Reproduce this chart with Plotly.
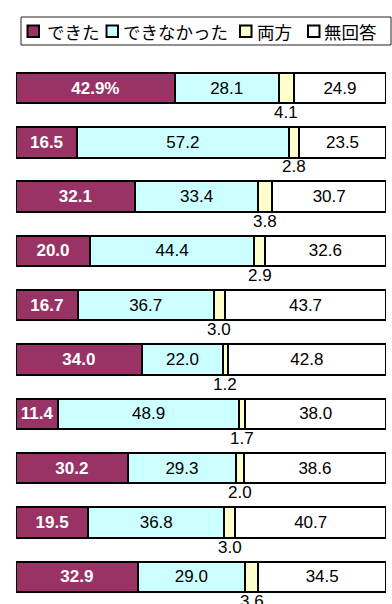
import plotly.graph_objects as go

rows = ["Q1", "Q2", "Q3", "Q4", "Q5", "Q6", "Q7", "Q8", "Q9", "Q10"]
series_names = ["できた", "できなかった", "両方", "無回答"]
dekita = [42.9, 16.5, 32.1, 20.0, 16.7, 34.0, 11.4, 30.2, 19.5, 32.9]
dekinakatta = [28.1, 57.2, 33.4, 44.4, 36.7, 22.0, 48.9, 29.3, 36.8, 29.0]
ryouhou = [4.1, 2.8, 3.8, 2.9, 3.0, 1.2, 1.7, 2.0, 3.0, 3.6]
mukaitou = [24.9, 23.5, 30.7, 32.6, 43.7, 42.8, 38.0, 38.6, 40.7, 34.5]
colors = ["#993366", "#CCFFFF", "#FFFFCC", "#FFFFFF"]

W, H = 392, 604
ML, MR, MT, MB = 16, 6, 52, 0
PW, PH = W - ML - MR, H - MT - MB


def px(x):
    return (x - ML) / PW


def py(y):
    return (H - MB - y) / PH


fig = go.Figure()
series = [dekita, dekinakatta, ryouhou, mukaitou]
for i, vals in enumerate(series):
    if i == 0:
        text = [f"{v:.1f}%" if j == 0 else f"{v:.1f}" for j, v in enumerate(vals)]
        tfont = dict(family="Liberation Sans, Arial", size=17, color="white", weight="bold")
    elif i == 2:
        text = None
        tfont = None
    else:
        text = [f"{v:.1f}" for v in vals]
        tfont = dict(family="Liberation Sans, Arial", size=17, color="black")
    fig.add_trace(go.Bar(
        y=rows, x=vals, orientation="h", name=series_names[i],
        marker=dict(color=colors[i], line=dict(color="black", width=2)),
        text=text, textposition="inside" if text else "none",
        insidetextanchor="middle", textangle=0,
        textfont=tfont, hoverinfo="skip", showlegend=False,
    ))

# labels for the narrow "両方" segment, placed below the bar
for r, a, b, c in zip(rows, dekita, dekinakatta, ryouhou):
    fig.add_annotation(x=a + b + c / 2, y=r, text=f"{c:.1f}", showarrow=False,
                       yshift=-24.5, xref="x", yref="y",
                       font=dict(family="Liberation Sans, Arial", size=17, color="black"))

# legend drawn manually
shapes = [dict(type="rect", xref="paper", yref="paper",
               x0=px(21), x1=px(391), y0=py(45), y1=py(17),
               line=dict(color="#222222", width=1), fillcolor="white", layer="below")]
legend_marker_x = [27.5, 106.5, 240, 308]
legend_text_x = [45, 121, 254.5, 321.5]
for i, name in enumerate(series_names):
    mx = legend_marker_x[i]
    shapes.append(dict(type="rect", xref="paper", yref="paper",
                       x0=px(mx), x1=px(mx + 11.5), y0=py(37), y1=py(25.5),
                       line=dict(color="black", width=2), fillcolor=colors[i]))
    fig.add_annotation(x=px(legend_text_x[i]), y=py(31.5), xref="paper", yref="paper",
                       text=name, showarrow=False, xanchor="left", yanchor="middle",
                       font=dict(family="Noto Sans CJK JP", size=17.5, color="black"))

fig.update_layout(
    width=W, height=H, margin=dict(l=ML, r=MR, t=MT, b=MB),
    barmode="stack", bargap=0.44,
    paper_bgcolor="white", plot_bgcolor="white",
    shapes=shapes,
    xaxis=dict(range=[0, 100], visible=False, fixedrange=True),
    yaxis=dict(autorange="reversed", visible=False, fixedrange=True),
    showlegend=False,
)

fig.write_html("out.html")
